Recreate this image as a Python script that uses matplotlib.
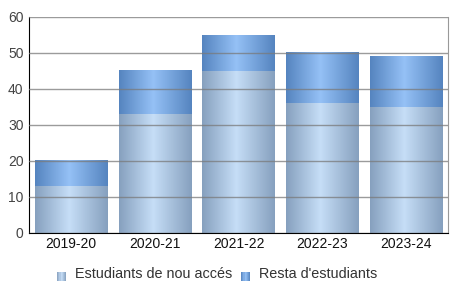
import numpy as np
import matplotlib
matplotlib.use('Agg')
import matplotlib.pyplot as plt
from matplotlib.colors import LinearSegmentedColormap
from matplotlib.patches import Rectangle
from matplotlib.legend_handler import HandlerBase

categories = ['2019-20', '2020-21', '2021-22', '2022-23', '2023-24']
nou_acces = [13, 33, 45, 36, 35]
resta = [7, 12, 10, 14, 14]
series_labels = ["Estudiants de nou accés", "Resta d'estudiants"]

plt.rcParams['font.family'] = ['Liberation Sans', 'DejaVu Sans']

fig = plt.figure(figsize=(4.56, 3.05), dpi=100)
ax = fig.add_axes([29/456, 72/305, 419/456, 216/305])

cmap_bottom = LinearSegmentedColormap.from_list(
    'b', [(0, '#86a0be'), (0.47, '#c6def7'), (1, '#86a0be')])
cmap_top = LinearSegmentedColormap.from_list(
    't', [(0, '#5584bf'), (0.47, '#95c1f6'), (1, '#5584bf')])
grad = np.linspace(0, 1, 256).reshape(1, -1)

x = np.arange(len(categories))
b1 = ax.bar(x, nou_acces, width=0.86, color='none', edgecolor='none')
b2 = ax.bar(x, resta, bottom=nou_acces, width=0.86, color='none', edgecolor='none')
for bars, cmap in ((b1, cmap_bottom), (b2, cmap_top)):
    for r in bars:
        x0, y0 = r.get_x(), r.get_y()
        w, h = r.get_width(), r.get_height()
        ax.imshow(grad, cmap=cmap, extent=(x0, x0 + w, y0, y0 + h),
                  aspect='auto', zorder=1, interpolation='nearest')

ax.set_xlim(-0.5, len(categories) - 0.5)
ax.set_ylim(0, 60)
ax.set_yticks(range(0, 61, 10))
ax.set_xticks(x)
ax.set_xticklabels(categories)
ax.set_axisbelow(False)
ax.yaxis.grid(True, color='#7a7a7a', alpha=0.75, lw=1)
ax.tick_params(length=0, labelsize=10)
ax.tick_params(axis='y', labelcolor='#444444', pad=4)
ax.tick_params(axis='x', labelcolor='#111111', pad=3)
ax.spines['top'].set_visible(False)
ax.spines['right'].set_color('#999999')
ax.spines['left'].set_color('black')
ax.spines['bottom'].set_color('black')


class GradHandler(HandlerBase):
    def __init__(self, cmap):
        super().__init__()
        self.cmap = cmap

    def create_artists(self, legend, orig_handle, xdescent, ydescent,
                       width, height, fontsize, trans):
        n = 8
        arts = []
        for i in range(n):
            c = self.cmap((i + 0.5) / n)
            arts.append(Rectangle((-xdescent + i * width / n, -ydescent - 2),
                                  width / n, height, facecolor=c,
                                  edgecolor='none', transform=trans))
        return arts


h1 = Rectangle((0, 0), 1, 1)
h2 = Rectangle((0, 0), 1, 1)
fig.legend([h1, h2], series_labels,
           handler_map={h1: GradHandler(cmap_bottom), h2: GradHandler(cmap_top)},
           ncol=2, frameon=False, loc='center', bbox_to_anchor=(0.476, 0.10),
           handlelength=0.6, handleheight=0.55, handletextpad=0.6,
           columnspacing=0.65, fontsize=10.4, labelcolor='#333333')

fig.savefig('out.png', dpi=100)
